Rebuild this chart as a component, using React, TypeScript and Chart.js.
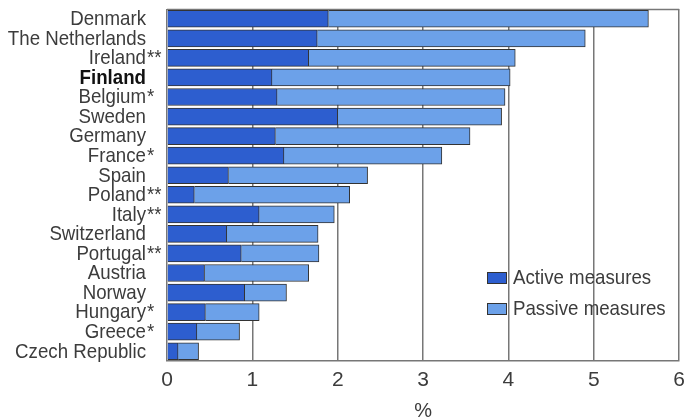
import React, { useEffect, useRef } from "react";
import { Chart, registerables } from "chart.js";

Chart.register(...registerables);

const countries = [
  "Denmark", "The Netherlands", "Ireland", "Finland", "Belgium", "Sweden", "Germany",
  "France", "Spain", "Poland", "Italy", "Switzerland", "Portugal", "Austria", "Norway",
  "Hungary", "Greece", "Czech Republic",
];
const footnoteMarks = ["", "", "**", "", "*", "", "", "*", "", "**", "**", "", "**", "", "", "*", "*", ""];
const activeMeasures = [1.89, 1.76, 1.66, 1.23, 1.29, 2.0, 1.27, 1.37, 0.72, 0.32, 1.08, 0.7, 0.87, 0.44, 0.91, 0.45, 0.35, 0.13];
const passiveMeasures = [3.75, 3.14, 2.42, 2.79, 2.67, 1.92, 2.28, 1.85, 1.63, 1.82, 0.88, 1.07, 0.91, 1.22, 0.49, 0.63, 0.5, 0.24];
const xMin = 0;
const xMax = 6;
const highlighted = "Finland";

const FONT = "'Liberation Sans', Arial, sans-serif";
const SX = 0.89;
const ACTIVE = "#2d5ecf";
const PASSIVE = "#6ca1e9";
const TEXT = "#3c3c3c";
const GRID = "#777777";

function drawText(ctx: any, text: string, x: number, y: number, align: "left" | "right") {
  ctx.save();
  ctx.translate(x, y);
  ctx.scale(SX, 1);
  ctx.textAlign = align;
  ctx.fillText(text, 0, 0);
  ctx.restore();
}

export default function App() {
  const ref = useRef<HTMLCanvasElement | null>(null);
  useEffect(() => {
    if (!ref.current) return;
    const labelsPlugin = {
      id: "labelsPlugin",
      beforeDatasetsDraw(chart: any) {
        const { ctx, chartArea } = chart;
        ctx.save();
        ctx.strokeStyle = GRID;
        ctx.lineWidth = 1.5;
        ctx.beginPath();
        ctx.moveTo(chartArea.left, chartArea.top + 0.5);
        ctx.lineTo(chartArea.right, chartArea.top + 0.5);
        ctx.stroke();
        ctx.restore();
      },
      afterDraw(chart: any) {
        const { ctx, chartArea } = chart;
        const y = chart.scales.y;
        ctx.save();
        ctx.textBaseline = "middle";
        const xr = chartArea.left - 21;
        countries.forEach((c, i) => {
          const py = y.getPixelForValue(i) + 0.5;
          const bold = c === highlighted;
          ctx.font = (bold ? "bold " : "") + "21px " + FONT;
          ctx.fillStyle = bold ? "#111" : TEXT;
          drawText(ctx, c, xr, py, "right");
          if (footnoteMarks[i]) {
            drawText(ctx, footnoteMarks[i], xr + 1, py, "left");
          }
        });
        const items = [
          { label: "Active measures", color: ACTIVE },
          { label: "Passive measures", color: PASSIVE },
        ];
        const lx = chartArea.left + 320;
        const ly = chartArea.top + 269;
        items.forEach((it, k) => {
          const by = ly + k * 31;
          ctx.fillStyle = it.color;
          ctx.fillRect(lx, by - 6, 20, 12);
          ctx.strokeStyle = "#333";
          ctx.lineWidth = 1;
          ctx.strokeRect(lx + 0.5, by - 5.5, 19, 11);
          ctx.font = "21px " + FONT;
          ctx.fillStyle = TEXT;
          drawText(ctx, it.label, lx + 26, by, "left");
        });
        ctx.restore();
      },
    };
    const chart = new Chart(ref.current, {
      type: "bar",
      data: {
        labels: countries,
        datasets: [
          { label: "Active measures", data: activeMeasures, backgroundColor: ACTIVE, borderColor: "#333", borderWidth: 1, barThickness: 17 },
          { label: "Passive measures", data: passiveMeasures, backgroundColor: PASSIVE, borderColor: "#333", borderWidth: 1, barThickness: 17 },
        ],
      },
      options: {
        indexAxis: "y",
        responsive: false,
        animation: false,
        layout: { padding: { left: 167, right: 8, top: 9, bottom: 0 } },
        plugins: { legend: { display: false }, tooltip: { enabled: false } },
        scales: {
          x: {
            stacked: true,
            min: xMin,
            max: xMax,
            afterFit: (scale: any) => {
              scale.height = 58;
            },
            grid: { color: GRID, lineWidth: 1.5, drawTicks: false },
            border: { color: GRID, width: 1.5 },
            ticks: { stepSize: 1, color: TEXT, font: { family: FONT, size: 21 }, padding: 7 },
            title: { display: true, text: "%", color: TEXT, font: { family: FONT, size: 20 }, padding: { top: 0, bottom: -4 } },
          },
          y: {
            stacked: true,
            display: false,
          },
        },
      },
      plugins: [labelsPlugin],
    } as any);
    return () => chart.destroy();
  }, []);
  return (
    <div style={{ position: "fixed", left: 0, top: 0, width: 692, height: 419, background: "#fff" }}>
      <canvas ref={ref} width={692} height={419} />
    </div>
  );
}
